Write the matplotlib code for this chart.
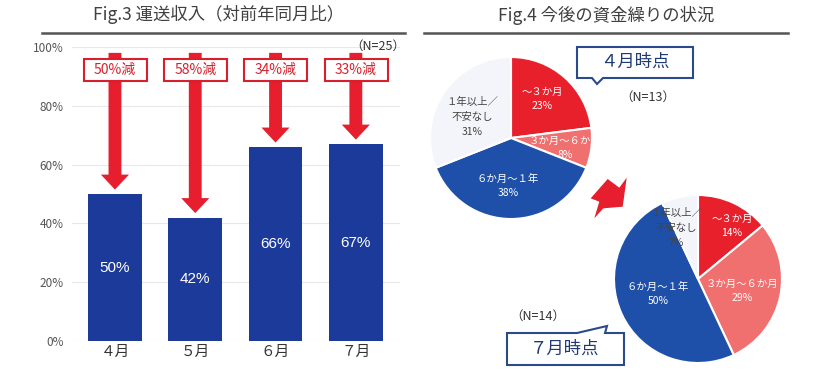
import numpy as np
import matplotlib.pyplot as plt
from matplotlib.patches import Rectangle, Polygon

plt.rcParams['font.family'] = ['Noto Sans CJK JP', 'DejaVu Sans']

# Fig.3 data
months = ['４月', '５月', '６月', '７月']
income_ratio = [50, 42, 66, 67]
decrease_labels = ['50%減', '58%減', '34%減', '33%減']

# Fig.4 data
pie_labels = ['～３か月', '３か月～６か月', '６か月～１年', '１年以上／\n不安なし']
april_share = [23, 8, 38, 31]
july_share = [14, 29, 50, 7]

W, H = 820, 382
RED = '#E61E2D'
NAVY = '#1B3A9A'
pie_colors = ['#E8202C', '#F07070', '#1E50AA', '#F3F5FA']
label_colors = ['white', 'white', 'white', '#444444']

fig = plt.figure(figsize=(W / 100, H / 100), dpi=100)

# ---- bar chart ----
ax = fig.add_axes([72 / W, 41 / H, 328 / W, 294 / H])
x = np.arange(len(months))
ax.bar(x, income_ratio, width=0.67, color=NAVY, zorder=2)
ax.set_xlim(-0.535, 3.55)
ax.set_ylim(0, 100)
ax.set_yticks(range(0, 101, 20))
ax.set_yticklabels([f'{v}%' for v in range(0, 101, 20)])
ax.set_xticks(x)
ax.set_xticklabels(months)
ax.tick_params(length=0)
ax.tick_params(axis='y', labelsize=8.5, labelcolor='#555555', pad=6)
ax.tick_params(axis='x', labelsize=10.5, labelcolor='#333333', pad=3)
ax.grid(axis='y', color='#e8e8e8', lw=0.8, zorder=0)
for s in ax.spines.values():
    s.set_visible(False)

for i, v in enumerate(income_ratio):
    ax.text(i, v / 2, f'{v}%', color='white', ha='center', va='center',
            fontsize=11, family=['Liberation Sans'], zorder=3)
    ax.arrow(i, 98, 0, -(98 - v - 1.5), width=0.16, head_width=0.35,
             head_length=5.1, length_includes_head=True, color=RED, lw=0, zorder=3)
    ax.add_patch(Rectangle((i - 0.39, 88.4), 0.785, 7.5, fc='white', ec='#D8202C',
                           lw=1.5, zorder=4, clip_on=False))
    ax.text(i, 92.2, decrease_labels[i], color='#D8202C', ha='center', va='center',
            fontsize=10, zorder=5)

# ---- overlay in pixel coords ----
ov = fig.add_axes([0, 0, 1, 1], facecolor='none')


def Y(y):
    return H - y


ov.text(219, Y(15), 'Fig.3 運送収入（対前年同月比）', ha='center', va='center',
        fontsize=12.5, color='#404040')
ov.plot([42, 405], [Y(33), Y(33)], color='#555555', lw=1.8)
ov.text(405, Y(46), '（N=25）', ha='right', va='center', fontsize=9, color='#333333')

ov.text(606, Y(15), 'Fig.4 今後の資金繰りの状況', ha='center', va='center',
        fontsize=12.5, color='#404040')
ov.plot([424, 788], [Y(33), Y(33)], color='#555555', lw=1.8)


def draw_pie(shares, center, radius, offsets):
    ov.pie(shares, colors=pie_colors, startangle=90, counterclock=False,
           center=center, radius=radius,
           wedgeprops=dict(edgecolor='white', linewidth=1.5))
    # label offsets (px) from the pie centre
    for k, (dx, dy) in enumerate(offsets):
        ov.text(center[0] + dx, center[1] + dy,
                f'{pie_labels[k]}\n{shares[k]}%', ha='center', va='center',
                fontsize=7.5, color=label_colors[k], linespacing=1.6)


draw_pie(april_share, (511, Y(138)), 81, [(31, 39), (54, -10), (-3, -48), (-39, 21)])
draw_pie(july_share, (698, Y(279)), 84, [(34, 53), (44, -12), (-40, -15), (-22, 51)])

# bent red arrow between pies
arrow_pts = [(607.7, 179), (619.3, 187.7), (626.7, 177.7), (622.7, 206.7),
             (603.3, 208.3), (594.3, 218.3), (599.3, 201.7), (590.7, 198.3)]
ov.add_patch(Polygon([(px, Y(py)) for px, py in arrow_pts], closed=True, fc=RED, ec='none'))

# callouts
call1 = [(577, 47), (693, 47), (693, 78), (603, 78), (597, 84), (592, 78), (577, 78)]
ov.add_patch(Polygon([(px, Y(py)) for px, py in call1], closed=True, fc='white',
                     ec='#2B4A8B', lw=1.5))
ov.text(635, Y(62), '４月時点', ha='center', va='center', fontsize=12.5, color='#1F3A73')
ov.text(648, Y(97), '（N=13）', ha='center', va='center', fontsize=9, color='#333333')

call2 = [(507, 333), (577, 333), (607, 326), (605, 333), (624, 333), (624, 365), (507, 365)]
ov.add_patch(Polygon([(px, Y(py)) for px, py in call2], closed=True, fc='white',
                     ec='#2B4A8B', lw=1.5))
ov.text(565, Y(349), '７月時点', ha='center', va='center', fontsize=12.5, color='#1F3A73')
ov.text(538, Y(316), '（N=14）', ha='center', va='center', fontsize=9, color='#333333')

ov.set_aspect('auto')
ov.set_xlim(0, W)
ov.set_ylim(0, H)
ov.axis('off')

fig.savefig('out.png', dpi=100)
